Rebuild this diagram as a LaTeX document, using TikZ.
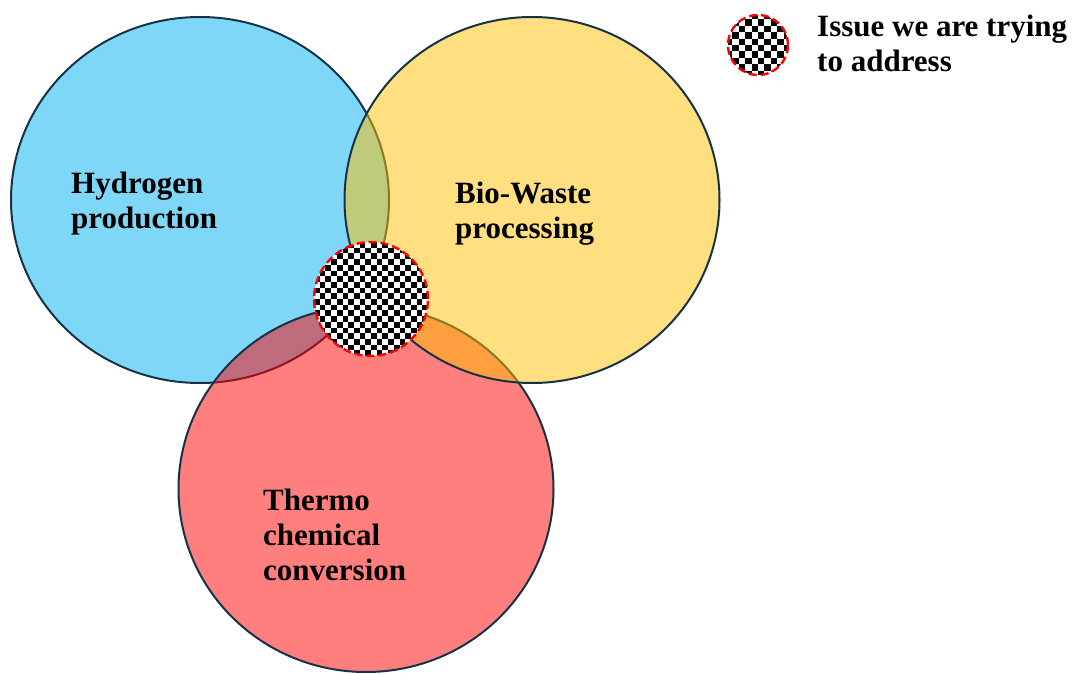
\documentclass[tikz,border=0pt]{standalone}
\usepackage{fontspec}
\setmainfont{Liberation Serif}
\usetikzlibrary{shapes.geometric}
\definecolor{hblue}{HTML}{00B0F0}
\definecolor{hred}{HTML}{FF0000}
\definecolor{hyellow}{HTML}{FFC000}
\definecolor{rim}{RGB}{22,50,70}
\newcommand{\checkerfill}[2]{% #1 cell size, #2 count
  \begin{scope}[shift={(path picture bounding box.center)}]
    \fill[white] (-200,-200) rectangle (200,200);
    \foreach \i in {-#2,...,#2}{
      \foreach \j in {-#2,...,#2}{
        \pgfmathtruncatemacro\kk{\i+\j+100}
        \ifodd\kk\else
          \fill[black] (\i*#1,\j*#1) rectangle ++(#1,#1);
        \fi
      }
    }
  \end{scope}}
\tikzset{
  set/.style={ellipse, draw=rim, line width=2pt, fill opacity=0.5, draw opacity=1, inner sep=0},
  lbl/.style={anchor=north west, inner sep=0, align=left, font=\bfseries\fontsize{31}{35}\selectfont},
  issue/.style={circle, draw=red, line width=2.4pt, dash pattern=on 8pt off 4pt, inner sep=0}
}
\begin{document}
\begin{tikzpicture}[x=1pt,y=-1pt]
\useasboundingbox (0,0) rectangle (1074,674);
\node[set, fill=hblue, minimum width=378, minimum height=366] (hyd) at (200,200) {};
\node[set, fill=hred, minimum width=375, minimum height=366] (thermo) at (366,489) {};
\node[set, fill=hyellow, minimum width=375, minimum height=366] (bio) at (532,200) {};
\node[issue, minimum size=114, path picture={\checkerfill{5.7}{11}}] (core) at (371,299) {};
\node[lbl] (hydt) at (71,172) {Hydrogen\\production};
\node[lbl] (biot) at (455,182) {Bio-Waste\\processing};
\node[lbl] (thermot) at (263,489) {Thermo\\chemical\\conversion};
\node[issue, minimum size=60, path picture={\checkerfill{6.4}{6}}] (legsym) at (758,45) {};
\node[lbl] (legt) at (817,14.5) {Issue we are trying\\to address};
\end{tikzpicture}
\end{document}
